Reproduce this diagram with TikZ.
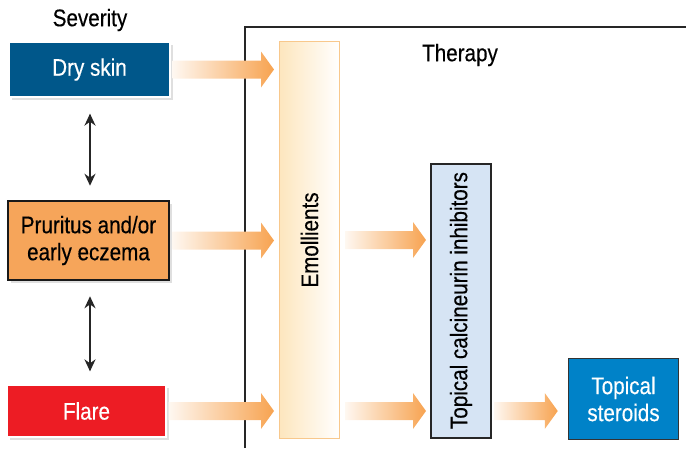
\documentclass[tikz,border=0pt]{standalone}
\usepackage{fontspec}
\setmainfont{Liberation Sans}[FakeStretch=0.86, FakeBold=0.4]
\usepackage{graphicx}
\usetikzlibrary{arrows.meta, positioning, calc, shadows}

\definecolor{dryblue}{RGB}{0,87,138}
\definecolor{prurorange}{RGB}{246,165,90}
\definecolor{flarered}{RGB}{237,28,36}
\definecolor{emolpeach}{RGB}{253,230,190}
\definecolor{emolline}{RGB}{248,200,140}
\definecolor{tcifill}{RGB}{214,228,244}
\definecolor{sterblue}{RGB}{0,130,200}
\definecolor{arrorange}{RGB}{247,163,80}

% shaded fat arrow: from, to, gap at start, gap at tip
\newcommand{\fatarrow}[4]{%
  \shade[arrshade] let \p1=(#1), \p2=(#2) in
    (\x1+#3,\y1-9pt) -- (\x2-#4-13pt,\y1-9pt) -- (\x2-#4-13pt,\y1-18pt) -- (\x2-#4,\y1)
    -- (\x2-#4-13pt,\y1+18pt) -- (\x2-#4-13pt,\y1+9pt) -- (\x1+#3,\y1+9pt) -- cycle;}

\begin{document}
\begin{tikzpicture}[
  x=1pt, y=-1pt,
  txt/.style={font=\fontsize{24}{27}\selectfont, inner sep=0pt},
  sev/.style={txt, align=center, drop shadow={opacity=0.25, shadow xshift=3pt, shadow yshift=-3pt}},
  col/.style={txt, minimum width=60pt},
  arrshade/.style={left color=arrorange!8, right color=arrorange},
  dbl/.style={{Stealth[length=12pt, width=11pt]}-{Stealth[length=12pt, width=11pt]}, line width=2pt, black!85},
  frame/.style={line width=1.8pt, black!85}
]
\useasboundingbox (0,0) rectangle (686,448);

% severity column
\node[txt] (sevlbl) at (90,20) {Severity};
\node[sev, fill=dryblue, draw=white, line width=1.2pt, text=white,
      minimum width=161pt, minimum height=55pt] (ds) at (89.5,69.5) {Dry skin};
\node[sev, fill=prurorange, draw=black!90, line width=2.5pt,
      minimum width=161pt, minimum height=79pt] (pru) at (88.5,240.5) {Pruritus and/or\\early eczema};
\node[sev, fill=flarered, draw=white, line width=1.2pt, text=white,
      minimum width=159pt, minimum height=52pt] (flr) at (86.5,411) {Flare};

\draw[dbl, shorten <=16pt, shorten >=14pt] (ds.south -| 90,0) -- (pru.north -| 90,0);
\draw[dbl, shorten <=15pt, shorten >=13pt] (pru.south -| 90,0) -- (flr.north -| 90,0);

% therapy frame
\coordinate (frbl) at (245,448);
\coordinate (frtl) at (245,27);
\coordinate (frtr) at (686,27);
\draw[frame] (frbl) -- (frtl) -- (frtr);
\node[txt] (thlbl) at (460,55) {Therapy};

% therapy columns
\node[col, left color=emolpeach, right color=white, draw=emolline, line width=1pt,
      minimum height=397pt] (emol) at (309.5,240) {\rotatebox{90}{Emollients}};
\node[col, fill=tcifill, draw=black!85, line width=2pt,
      minimum width=60pt, minimum height=274pt] (tci) at (461,300.5) {\rotatebox{90}{Topical calcineurin inhibitors}};
\node[txt, fill=sterblue, draw=black!80, line width=1.5pt, text=white, align=center,
      minimum width=110pt, minimum height=81pt] (ster) at (623.5,399) {Topical\\steroids};

% arrows
\fatarrow{ds.east}{emol.west}{2pt}{5pt}
\fatarrow{pru.east}{emol.west}{2pt}{5pt}
\fatarrow{flr.east}{emol.west}{2pt}{5pt}
\fatarrow{emol.east}{tci.west}{5pt}{4pt}
\fatarrow{emol.east |- flr.east}{tci.west}{5pt}{4pt}
\fatarrow{tci.east |- flr.east}{ster.west}{2pt}{10pt}
\end{tikzpicture}
\end{document}
